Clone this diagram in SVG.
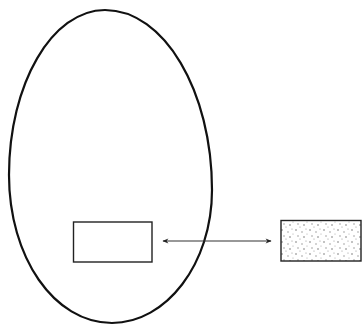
<svg xmlns="http://www.w3.org/2000/svg" width="363" height="326" viewBox="0 0 363 326">
<style>
.egg{fill:none;stroke:#111;stroke-width:2.2}
.box{stroke:#222;stroke-width:1.4}
.conn{stroke:#333;stroke-width:1.1;fill:none}
</style>
<defs>
<marker id="ah" viewBox="0 0 10 10" refX="9" refY="5" markerWidth="8" markerHeight="6" orient="auto-start-reverse" markerUnits="userSpaceOnUse">
<path d="M0,1 L10,5 L0,9 L3,5 Z" fill="#222"/>
</marker>
<pattern id="stip" width="14" height="12" patternUnits="userSpaceOnUse">
<rect width="14" height="12" fill="#fff"/>
<circle cx="2" cy="2" r="0.8" fill="#777"/>
<circle cx="8" cy="4" r="0.7" fill="#888"/>
<circle cx="12" cy="1" r="0.6" fill="#999"/>
<circle cx="4" cy="8" r="0.7" fill="#888"/>
<circle cx="10" cy="9" r="0.8" fill="#777"/>
<circle cx="6" cy="11" r="0.6" fill="#999"/>
<circle cx="13" cy="6" r="0.6" fill="#aaa"/>
</pattern>
</defs>
<g id="egg">
<path class="egg" d="M105,10 C164,10 212,91 212,190 C212,264 166,323 112,323 C54,323 9,257 9,175 C9,84 52,10 105,10 Z"/>
</g>
<g id="inner-box">
<rect class="box" x="73.5" y="222" width="78.5" height="40" fill="#fff"/>
</g>
<g id="outer-box">
<rect class="box" x="281" y="220.5" width="80" height="40.5" fill="url(#stip)"/>
</g>
<g id="connectors">
<line class="conn" x1="163" y1="241" x2="271" y2="241" marker-start="url(#ah)" marker-end="url(#ah)"/>
</g>
</svg>
